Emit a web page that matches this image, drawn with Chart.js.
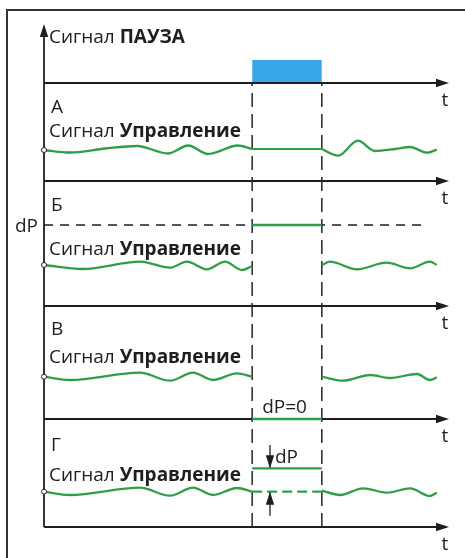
<!DOCTYPE html>
<html lang="ru">
<head>
<meta charset="utf-8">
<script src="https://cdn.jsdelivr.net/npm/chart.js@4.4.1/dist/chart.umd.min.js"></script>
<style>
  html, body { margin: 0; padding: 0; background: #fff; }
  canvas { display: block; }
</style>
</head>
<body>
<canvas id="diagram" width="465" height="558"></canvas>
<script>
// ось времени 0..10, пауза между pauseStart и pauseEnd
const pauseStart = 5.14;
const pauseEnd = 6.86;
const timeEnd = 10;

// уровни осей t сверху вниз: ПАУЗА, А, Б, В, Г
const axisLevels = [44.4, 34.6, 22.1, 10.8, 0];
const pauseTop = 46.7;
const valueAxisTop = 50.3;

// подписи
const panelLetters = ["А", "Б", "В", "Г"];
const signalWord = "Сигнал";
const pauseName = "ПАУЗА";
const controlName = "Управление";

// Сигнал Управление: до паузы (t1/y1) и после паузы (t2/y2)
const waveA_t1 = [0, 0.64, 1.51, 2.30, 3.06, 3.56, 4.05, 4.79, 5.14];
const waveA_y1 = [37.7, 37.45, 37.85, 38.1, 37.35, 38.15, 37.3, 38.15, 37.8];
const waveA_t2 = [6.86, 7.26, 7.75, 8.17, 8.67, 9.04, 9.46, 9.70];
const waveA_y2 = [37.8, 37.13, 38.63, 37.6, 37.8, 38.0, 37.43, 37.73];
const holdA = 37.8;

const waveB_t1 = [0, 0.96, 2.37, 3.11, 3.53, 4.02, 4.47, 4.89, 5.14];
const waveB_y1 = [26.2, 25.8, 26.53, 25.93, 26.53, 25.77, 26.53, 25.7, 26.1];
const waveB_t2 = [6.86, 7.06, 7.72, 8.46, 9.04, 9.53, 9.70];
const waveB_y2 = [26.2, 26.53, 25.77, 26.43, 25.87, 26.53, 26.2];
const levelB_dP = 30.2;
const dashB_end = 9.41;

const waveV_t1 = [0, 0.64, 2.37, 3.11, 3.68, 4.17, 4.77, 5.14];
const waveV_y1 = [15.03, 14.7, 15.43, 14.63, 15.43, 14.7, 15.37, 15.03];
const waveV_t2 = [6.86, 7.38, 8.05, 8.54, 9.21, 9.53, 9.70];
const waveV_y2 = [15.03, 14.63, 15.2, 14.9, 15.3, 14.7, 14.97];

const waveG_t1 = [0, 0.64, 2.37, 3.11, 3.68, 4.17, 4.77, 5.14];
const waveG_y1 = [3.53, 3.2, 3.93, 3.13, 3.93, 3.2, 3.9, 3.53];
const waveG_t2 = [6.86, 7.31, 7.88, 8.47, 9.04, 9.53, 9.70];
const waveG_y2 = [3.63, 3.2, 3.87, 3.43, 3.87, 3.1, 3.43];
const levelG_base = 3.53;
const levelG_dP = 5.87;
const dPArrowT = 5.58;
const dPArrowDown = [8.2, 5.87];
const dPArrowUp = [1.13, 3.53];

const GREEN = "#2e9f48";
const INK = "#1e1e1e";
const FONT = "'Open Sans', 'DejaVu Sans', sans-serif";
const FSIZE = 19;

const pts = (ts, ys) => ts.map((t, i) => ({ x: t, y: ys[i] }));
const seg = (t0, t1, v) => [{ x: t0, y: v }, { x: t1, y: v }];

function wave(ts, ys, startDot) {
    return {
        data: pts(ts, ys),
        borderColor: GREEN,
        borderWidth: 2.3,
        cubicInterpolationMode: "monotone",
        pointRadius: c => (startDot && c.dataIndex === 0 ? 2.5 : 0),
        pointHoverRadius: 0,
        pointBackgroundColor: "#fff",
        pointBorderColor: INK,
        pointBorderWidth: 1
    };
}

function straight(data, color, width, dash) {
    return {
        data: data,
        borderColor: color,
        borderWidth: width,
        borderDash: dash || [],
        pointRadius: 0,
        pointHoverRadius: 0,
        tension: 0
    };
}

const datasets = [];
// сигналы
datasets.push(wave(waveA_t1, waveA_y1, true), wave(waveA_t2, waveA_y2, false));
datasets.push(wave(waveB_t1, waveB_y1, true), wave(waveB_t2, waveB_y2, false));
datasets.push(wave(waveV_t1, waveV_y1, true), wave(waveV_t2, waveV_y2, false));
datasets.push(wave(waveG_t1, waveG_y1, true), wave(waveG_t2, waveG_y2, false));
datasets.push(straight(seg(pauseStart, pauseEnd, holdA), GREEN, 2.2));
datasets.push(straight(seg(pauseStart, pauseEnd, levelB_dP), GREEN, 2.4));
datasets.push(straight(seg(pauseStart, pauseEnd, axisLevels[3]), GREEN, 2.4));
datasets.push(straight(seg(pauseStart, pauseEnd, levelG_dP), GREEN, 2.2));
datasets.push(straight(seg(pauseStart, pauseEnd, levelG_base), GREEN, 2.2, [10, 5]));
// стрелки dP
datasets.push(straight([{ x: dPArrowT, y: dPArrowDown[0] }, { x: dPArrowT, y: dPArrowDown[1] }], INK, 1.3));
datasets.push(straight([{ x: dPArrowT, y: dPArrowUp[0] }, { x: dPArrowT, y: dPArrowUp[1] }], INK, 1.3));
// оси
axisLevels.forEach(lv => datasets.push(straight(seg(0, timeEnd - 0.2, lv), INK, 1.8)));
datasets.push(straight([{ x: 0, y: 0 }, { x: 0, y: valueAxisTop - 0.8 }], INK, 1.8));
// пунктир dP (Б) и границы паузы
datasets.push(straight(seg(0, dashB_end, levelB_dP), INK, 1.4, [9, 7]));
datasets.push(straight([{ x: pauseStart, y: 0 }, { x: pauseStart, y: axisLevels[0] }], "#333", 1.6, [14, 7]));
datasets.push(straight([{ x: pauseEnd, y: 0 }, { x: pauseEnd, y: axisLevels[0] }], "#333", 1.6, [14, 7]));
// сигнал ПАУЗА
datasets.push({
    data: seg(pauseStart, pauseEnd, pauseTop),
    borderWidth: 0,
    pointRadius: 0,
    pointHoverRadius: 0,
    backgroundColor: "#39a6e8",
    fill: { value: axisLevels[0] }
});

const overlay = {
    id: "overlay",
    afterDatasetsDraw(chart) {
        const { ctx, scales: { x, y } } = chart;
        const px = v => x.getPixelForValue(v);
        const py = v => y.getPixelForValue(v);

        function head(tx, ty, angle) {
            ctx.save();
            ctx.translate(tx, ty);
            ctx.rotate(angle);
            ctx.beginPath();
            ctx.moveTo(0, 0);
            ctx.lineTo(-13, -4.2);
            ctx.lineTo(-13, 4.2);
            ctx.closePath();
            ctx.fillStyle = INK;
            ctx.fill();
            ctx.restore();
        }

        function mixed(parts, lx, by) {
            let cx = lx;
            parts.forEach(([txt, bold]) => {
                ctx.font = (bold ? "bold " : "") + FSIZE + "px " + FONT;
                ctx.fillText(txt, cx, by);
                cx += ctx.measureText(txt).width;
            });
        }

        ctx.save();
        // рамка
        ctx.strokeStyle = "#333";
        ctx.lineWidth = 2;
        ctx.beginPath();
        ctx.moveTo(7, chart.height + 2);
        ctx.lineTo(7, 10);
        ctx.lineTo(chart.width + 2, 10);
        ctx.stroke();

        // стрелки осей
        axisLevels.forEach(lv => head(px(timeEnd), py(lv), 0));
        head(px(0), py(valueAxisTop), -Math.PI / 2);
        head(px(dPArrowT), py(dPArrowDown[1]), Math.PI / 2);
        head(px(dPArrowT), py(dPArrowUp[1]), -Math.PI / 2);

        ctx.fillStyle = INK;
        ctx.textBaseline = "alphabetic";
        ctx.textAlign = "left";
        const lx = px(0) + 5;

        mixed([[signalWord + " ", false], [pauseName, true]], lx, 43);

        const letterBase = [113, 211, 335, 451];
        const nameBase = [137, 255, 363, 481];
        panelLetters.forEach((l, i) => {
            ctx.font = FSIZE + "px " + FONT;
            ctx.fillText(l, lx + 2, letterBase[i]);
            mixed([[signalWord + " ", false], [controlName, true]], lx, nameBase[i]);
        });

        ctx.font = FSIZE + "px " + FONT;
        ctx.textAlign = "center";
        axisLevels.forEach(lv => ctx.fillText("t", px(timeEnd) - 4, py(lv) + 23));

        ctx.textAlign = "right";
        ctx.fillText("dP", px(0) - 6, py(levelB_dP) + 7);
        ctx.textAlign = "left";
        ctx.fillText("dP=0", px(pauseStart) + 10, py(axisLevels[3]) - 6);
        ctx.fillText("dP", px(dPArrowT) + 5, py(levelG_dP) - 5);
        ctx.restore();
    }
};

new Chart(document.getElementById("diagram"), {
    type: "line",
    data: { datasets: datasets },
    options: {
        responsive: false,
        animation: false,
        events: [],
        layout: { padding: 0, autoPadding: false },
        plugins: { legend: { display: false }, tooltip: { enabled: false } },
        scales: {
            x: { type: "linear", min: -44 / 40.5, max: 421 / 40.5, display: false },
            y: { type: "linear", min: -3.1, max: 52.7, display: false }
        }
    },
    plugins: [overlay]
});
</script>
</body>
</html>
